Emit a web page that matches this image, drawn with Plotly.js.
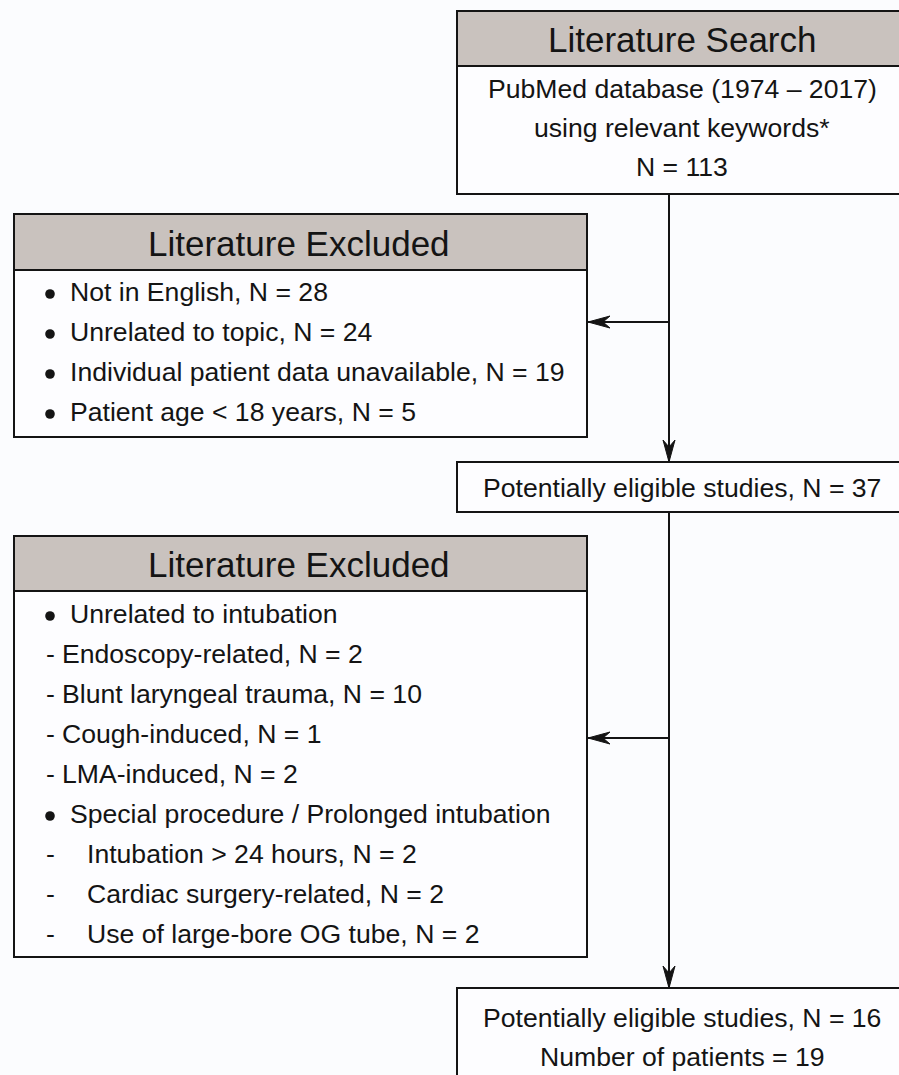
<!DOCTYPE html>
<html>
<head>
<meta charset="utf-8">
<script src="https://cdn.plot.ly/plotly-3.0.1.min.js"></script>
<style>
html,body{margin:0;padding:0;background:#fbfcfe;}
#chart{width:899px;height:1075px;}
</style>
</head>
<body>
<div id="chart"></div>
<script>
// ---- Content of the flow diagram ----
const searchTitle = 'Literature Search';
const searchLines = ['PubMed database (1974 – 2017)', 'using relevant keywords*', 'N = 113'];

const excludedTitle = 'Literature Excluded';
const excluded1Marks = ['•', '•', '•', '•'];
const excluded1Texts = ['Not in English, N = 28', 'Unrelated to topic, N = 24',
  'Individual patient data unavailable, N = 19', 'Patient age < 18 years, N = 5'];
const excluded1Levels = [0, 0, 0, 0];

const eligible1Text = 'Potentially eligible studies, N = 37';

const excluded2Marks = ['•', '-', '-', '-', '-', '•', '-', '-', '-'];
const excluded2Texts = ['Unrelated to intubation', 'Endoscopy-related, N = 2',
  'Blunt laryngeal trauma, N = 10', 'Cough-induced, N = 1', 'LMA-induced, N = 2',
  'Special procedure / Prolonged intubation', 'Intubation > 24 hours, N = 2',
  'Cardiac surgery-related, N = 2', 'Use of large-bore OG tube, N = 2'];
const excluded2Levels = [0, 1, 1, 1, 1, 0, 2, 2, 2];

const finalLines = ['Potentially eligible studies, N = 16', 'Number of patients = 19'];

// ---- Layout geometry (pixels, y downward) ----
const W = 899, H = 1075;
const FONT = 'Liberation Sans, Arial, Helvetica, sans-serif';
const INK = '#141414';
const HEAD_FILL = '#c9c2be';
const BODY_SIZE = 26.6;
const HEAD_SIZE = 35;
const LINE_W = 2;

const rightBox = {x0: 457, x1: 912};
const leftBox = {x0: 14, x1: 587};
const mainX = 669;
const rightCenter = 682;
const leftCenter = 299;

const box1 = {y0: 11, yh: 66, y1: 194};
const box2 = {y0: 214, yh: 270, y1: 437};
const box3 = {y0: 462, y1: 512};
const box4 = {y0: 536, yh: 591, y1: 957};
const box5 = {y0: 988, y1: 1090};

const shapes = [];
const annotations = [];

function esc(s) { return s.replace(/&/g, '&amp;').replace(/</g, '&lt;').replace(/>/g, '&gt;'); }

function rect(x0, y0, x1, y1) {
  shapes.push({type: 'rect', xref: 'x', yref: 'y', x0, y0, x1, y1,
    line: {color: INK, width: LINE_W}, fillcolor: 'rgba(0,0,0,0)', layer: 'above'});
}
function line(x0, y0, x1, y1) {
  shapes.push({type: 'line', xref: 'x', yref: 'y', x0, y0, x1, y1,
    line: {color: INK, width: LINE_W}, layer: 'above'});
}
function headedBox(bx, b) {
  shapes.push({type: 'rect', xref: 'x', yref: 'y', x0: bx.x0, y0: b.y0, x1: bx.x1, y1: b.yh,
    line: {width: 0}, fillcolor: HEAD_FILL, layer: 'below'});
  shapes.push({type: 'rect', xref: 'x', yref: 'y', x0: bx.x0, y0: b.yh, x1: bx.x1, y1: b.y1,
    line: {width: 0}, fillcolor: '#fdfdff', layer: 'below'});
  rect(bx.x0, b.y0, bx.x1, b.y1);
  line(bx.x0, b.yh, bx.x1, b.yh);
}
function plainBox(bx, b) {
  shapes.push({type: 'rect', xref: 'x', yref: 'y', x0: bx.x0, y0: b.y0, x1: bx.x1, y1: b.y1,
    line: {width: 0}, fillcolor: '#fdfdff', layer: 'below'});
  rect(bx.x0, b.y0, bx.x1, b.y1);
}
function arrowHead(tx, ty, dir) {
  const L = 22, Wd = 6, N = 7;
  let p;
  if (dir === 'down') {
    p = `M${tx},${ty} L${tx - Wd},${ty - L} L${tx},${ty - L + N} L${tx + Wd},${ty - L} Z`;
  } else {
    p = `M${tx},${ty} L${tx + L},${ty - Wd} L${tx + L - N},${ty} L${tx + L},${ty + Wd} Z`;
  }
  shapes.push({type: 'path', xref: 'x', yref: 'y', path: p,
    fillcolor: INK, line: {color: INK, width: 1}, layer: 'above'});
}
function text(x, y, s, size, anchor) {
  annotations.push({xref: 'x', yref: 'y', x, y, text: esc(s), showarrow: false,
    xanchor: anchor || 'center', yanchor: 'middle',
    font: {family: FONT, size: size, color: INK}});
}

// Boxes
headedBox(rightBox, box1);
headedBox(leftBox, box2);
plainBox(rightBox, box3);
headedBox(leftBox, box4);
plainBox(rightBox, box5);

// Connectors
const arrow1Y = 322, arrow2Y = 738;
line(mainX, box1.y1, mainX, box3.y0);
arrowHead(mainX, box3.y0, 'down');
line(mainX, arrow1Y, leftBox.x1, arrow1Y);
arrowHead(leftBox.x1 + 1, arrow1Y, 'left');
line(mainX, box3.y1, mainX, box5.y0);
arrowHead(mainX, box5.y0, 'down');
line(mainX, arrow2Y, leftBox.x1, arrow2Y);
arrowHead(leftBox.x1 + 1, arrow2Y, 'left');

// Texts
const TY = 1;
text(rightCenter, (box1.y0 + box1.yh) / 2 + TY, searchTitle, HEAD_SIZE);
const sStart = 88, sStep = 39;
searchLines.forEach((s, i) => text(rightCenter, sStart + i * sStep + TY, s, BODY_SIZE));

text(leftCenter, (box2.y0 + box2.yh) / 2 + TY, excludedTitle, HEAD_SIZE);
text(leftCenter, (box4.y0 + box4.yh) / 2 + TY, excludedTitle, HEAD_SIZE);

const markX = 45;
const textX = [68, 60, 85];
const BULLET_R = 4.8;
function listItems(marks, texts, levels, y0, step) {
  texts.forEach((s, i) => {
    const y = y0 + i * step + TY;
    const m = marks[i];
    if (m === '•') {
      const cx = markX + 5, cy = y + 2;
      shapes.push({type: 'circle', xref: 'x', yref: 'y',
        x0: cx - BULLET_R, x1: cx + BULLET_R, y0: cy - BULLET_R, y1: cy + BULLET_R,
        fillcolor: INK, line: {width: 0}, layer: 'above'});
    } else {
      text(markX - 1, y, m, BODY_SIZE, 'left');
    }
    text(textX[levels[i]], y, s, BODY_SIZE, 'left');
  });
}
listItems(excluded1Marks, excluded1Texts, excluded1Levels, 291, 40);
listItems(excluded2Marks, excluded2Texts, excluded2Levels, 613, 40);

text(rightCenter, (box3.y0 + box3.y1) / 2 + TY, eligible1Text, BODY_SIZE);
const fStart = 1017, fStep = 39;
finalLines.forEach((s, i) => text(rightCenter, fStart + i * fStep + TY, s, BODY_SIZE));

const layout = {
  width: W, height: H,
  margin: {l: 0, r: 0, t: 0, b: 0, pad: 0},
  paper_bgcolor: '#fbfcfe', plot_bgcolor: '#fbfcfe',
  xaxis: {range: [0, W], visible: false, fixedrange: true},
  yaxis: {range: [H, 0], visible: false, fixedrange: true},
  shapes, annotations, showlegend: false
};
Plotly.newPlot('chart', [], layout, {staticPlot: true, displayModeBar: false});
</script>
</body>
</html>
